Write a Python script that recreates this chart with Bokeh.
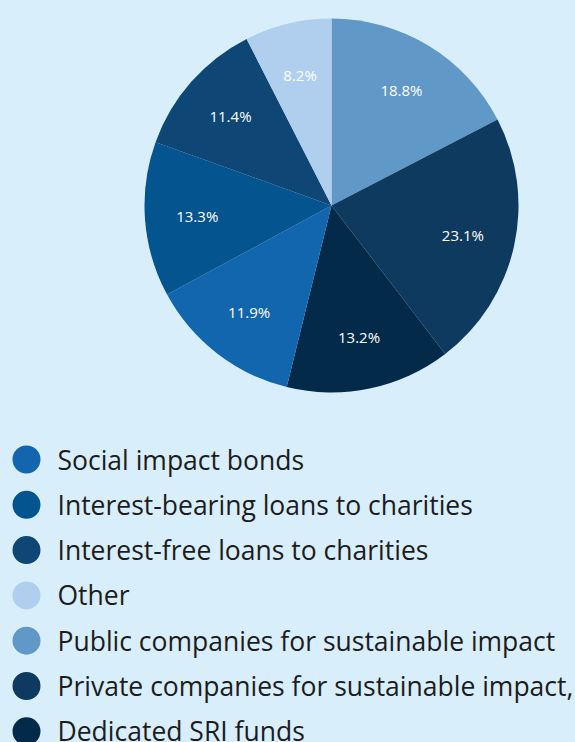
import math
from bokeh.plotting import figure
from bokeh.models import Range1d, ColumnDataSource
from bokeh.core.properties import value
from bokeh.embed import file_html
from bokeh.resources import INLINE

# ---- data (legend order) ----
categories = [
    "Social impact bonds",
    "Interest-bearing loans to charities",
    "Interest-free loans to charities",
    "Other",
    "Public companies for sustainable impact",
    "Private companies for sustainable impact,",
    "Dedicated SRI funds",
]
# printed slice labels (%)
shares = [11.9, 13.3, 11.4, 8.2, 18.8, 23.1, 13.2]
# slice sizes as drawn in the picture (% of the circle, measured from the wedge edges)
drawn_shares = [13.25, 13.4, 12.0, 7.5, 17.4, 22.2, 14.25]
colors = ["#1166ae", "#04548f", "#0e4675", "#b0cfee", "#6098c8", "#0f3a5f", "#032a48"]
# clockwise drawing order starting at 12 o'clock
pie_order = [4, 5, 6, 0, 1, 2, 3]

BG = "#d9eefb"
W, H = 575, 742
CX, CY, R = 331, H - 205, 187

p = figure(width=W, height=H, output_backend="svg", toolbar_location=None,
           x_range=Range1d(0, W), y_range=Range1d(0, H), min_border=0)
p.axis.visible = False
p.grid.visible = False
p.outline_line_color = None
p.background_fill_color = BG
p.border_fill_color = BG

total = sum(drawn_shares)
starts, ends, lx, ly, labs, cols = [], [], [], [], [], []
cum = 0.0
for i in pie_order:
    v = drawn_shares[i]
    a0 = math.pi / 2 - 2 * math.pi * cum / total
    a1 = math.pi / 2 - 2 * math.pi * (cum + v) / total
    mid = (a0 + a1) / 2
    starts.append(a0)
    ends.append(a1)
    cols.append(colors[i])
    lx.append(CX + 0.72 * R * math.cos(mid))
    ly.append(CY + 0.72 * R * math.sin(mid))
    labs.append(f"{shares[i]:.1f}%")
    cum += v

src = ColumnDataSource(dict(x=[CX] * len(starts), y=[CY] * len(starts), s=starts, e=ends, c=cols))
p.wedge(x="x", y="y", radius=R, start_angle="s", end_angle="e", direction="clock",
        fill_color="c", line_color=None, source=src)

p.text(x=lx, y=ly, text=labs, text_color="white", text_font=value("Open Sans"),
       text_font_size="15px", text_align="center", text_baseline="middle")

# ---- legend ----
ys = [H - (459 + k * 45.3) for k in range(len(categories))]
p.scatter(x=[26] * len(categories), y=ys, size=28, marker="circle",
          fill_color=colors, line_color=None)
p.text(x=[57] * len(categories), y=ys, text=categories, text_color="#1c1c1c",
       text_font=value("Open Sans"), text_font_size="26.5px",
       text_align="left", text_baseline="middle")

html = file_html(p, INLINE)
style = "<style>html,body{margin:0;padding:0;background:%s;overflow:hidden}</style>" % BG
html = html.replace("</head>", style + "</head>", 1)
open("out.html", "w").write(html)
